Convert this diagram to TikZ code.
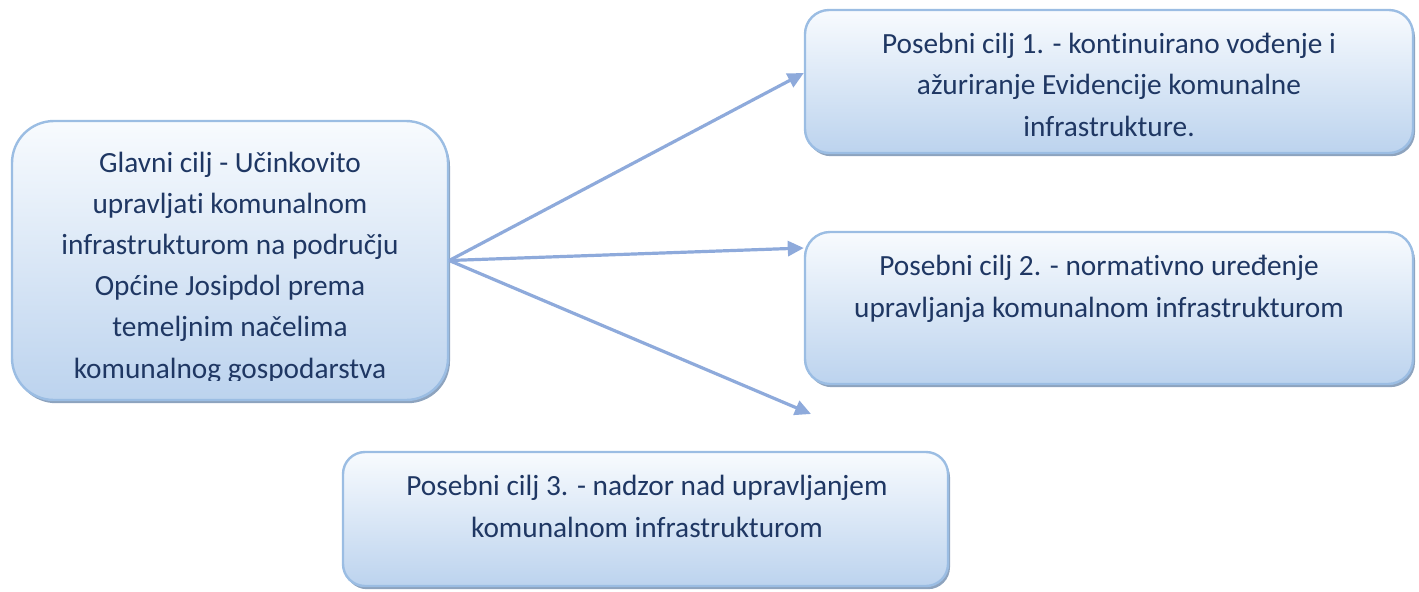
\documentclass[tikz,border=0pt]{standalone}
\usepackage{fontspec}
\setmainfont{Carlito}[Ligatures=NoCommon]
\usetikzlibrary{arrows.meta,shadows}

\definecolor{boxtop}{HTML}{F8FBFE}
\definecolor{boxbottom}{HTML}{BCD3EE}
\definecolor{boxline}{HTML}{9BBDE3}
\definecolor{boxshadow}{HTML}{8DA3BE}
\definecolor{textblue}{HTML}{1F3763}
\definecolor{arrowblue}{HTML}{8EAADB}

\begin{document}
\begin{tikzpicture}[x=0.5pt,y=-0.5pt,
    goal/.style={draw=boxline, line width=1.2pt, top color=boxtop, bottom color=boxbottom,
        drop shadow={shadow xshift=1pt, shadow yshift=-1.6pt, fill=boxshadow, opacity=1},
        inner sep=0pt},
    goaltext/.style={anchor=base, align=center, text=textblue,
        font=\fontsize{14.65pt}{20.6pt}\selectfont},
    arrowline/.style={draw=arrowblue, line width=1.6pt, -{Triangle[length=8pt,width=7.5pt]}}]
    \useasboundingbox (0,0) rectangle (1419,591);

    % Draw the boxes
    \node[goal, rounded corners=21pt, minimum width=218pt, minimum height=139.5pt] (main) at (230,260.5) {};
    \node[goal, rounded corners=12pt, minimum width=304pt, minimum height=71.5pt] (goalA) at (1109,81.5) {};
    \node[goal, rounded corners=12.5pt, minimum width=304pt, minimum height=76pt] (goalB) at (1109,308) {};
    \node[goal, rounded corners=11pt, minimum width=302.5pt, minimum height=67pt] (goalC) at (645.5,519) {};

    % Texts of the boxes, placed at the baseline of their last line
    % (the last line of the main box is cut off)
    \begin{scope}
        \clip (12,121) rectangle (448,380);
        \node[goaltext] (mainText) at (230,378) {Glavni cilj - Učinkovito\\upravljati komunalnom\\infrastrukturom na području\\Općine Josipdol prema\\temeljnim načelima\\komunalnog gospodarstva};
    \end{scope}
    \node[goaltext] (goalAText) at (1109,136) {Posebni cilj 1. - kontinuirano vođenje i\\ažuriranje Evidencije komunalne\\infrastrukture.};
    \node[goaltext] (goalBText) at (1099,317) {Posebni cilj 2. - normativno uređenje\\upravljanja komunalnom infrastrukturom};
    \node[goaltext] (goalCText) at (647,537) {Posebni cilj 3. - nadzor nad upravljanjem\\komunalnom infrastrukturom};

    % Draw the arrows
    \coordinate (tipC) at (811,414);
    \draw[arrowline] (main.east) -- ([yshift=4.25pt]goalA.west);
    \draw[arrowline] (main.east) -- ([yshift=30pt]goalB.west);
    \draw[arrowline] (main.east) -- (tipC);
\end{tikzpicture}
\end{document}
